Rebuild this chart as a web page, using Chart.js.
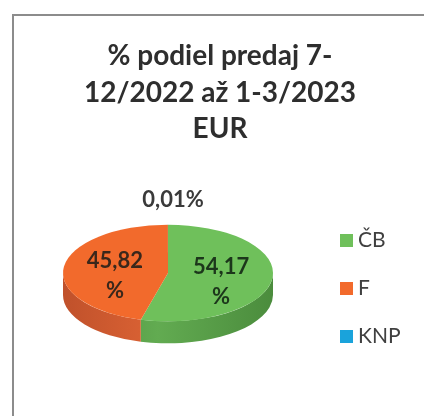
<!DOCTYPE html>
<html>
<head>
<meta charset="utf-8">
<script src="https://cdn.jsdelivr.net/npm/chart.js@4.4.1/dist/chart.umd.min.js"></script>
<style>
  html, body { margin: 0; padding: 0; background: #fff; }
  #wrap { width: 424px; height: 416px; }
</style>
</head>
<body>
<div id="wrap"><canvas id="pieChart" width="424" height="416"></canvas></div>
<script>
const titleLines = ['% podiel predaj 7-', '12/2022 až 1-3/2023', 'EUR'];
const categories = ['ČB', 'F', 'KNP'];
const shares = [54.17, 45.82, 0.01];

const topColors = ['#6fc05b', '#f26a2c', '#1aa3db'];
const sideColors = [['#4b8c3d', '#62ab51'], ['#c0512b', '#dc6334'], ['#12769f', '#1a93c4']];
const labelColors = ['#1c361b', '#3a271b', '#3a3a3a'];

const tilt = 0.46;   // vertical squash of the pie
const depth = 22;    // thickness of the pie in px

function fmt(v) {
    return v.toFixed(2).replace('.', ',');
}

// draws frame, title and legend around the pie
const decorPlugin = {
    id: 'decor',
    beforeDraw(chart) {
        const ctx = chart.ctx;
        ctx.save();
        ctx.fillStyle = '#fff';
        ctx.fillRect(0, 0, chart.width, chart.height);
        ctx.strokeStyle = '#8c8c8c';
        ctx.lineWidth = 2;
        ctx.beginPath();
        ctx.moveTo(13, chart.height + 2);
        ctx.lineTo(13, 15);
        ctx.lineTo(chart.width + 2, 15);
        ctx.stroke();

        ctx.fillStyle = '#2e2e2e';
        ctx.font = 'bold 28px Lato';
        ctx.textAlign = 'center';
        ctx.textBaseline = 'alphabetic';
        titleLines.forEach((line, i) => ctx.fillText(line, 220, 65 + i * 36.5));

        ctx.font = '21px Lato';
        ctx.textAlign = 'left';
        categories.forEach((c, i) => {
            const base = 247 + i * 48;
            ctx.fillStyle = topColors[i];
            ctx.fillRect(340, base - 13, 13, 13);
            ctx.fillStyle = '#404040';
            ctx.fillText(c, 358, base);
        });
        ctx.restore();
    }
};

// squashes the pie and adds the visible side wall
const pie3dPlugin = {
    id: 'pie3d',
    beforeDatasetsDraw(chart) {
        const ctx = chart.ctx;
        const arcs = chart.getDatasetMeta(0).data;
        const cx = arcs[0].x, cy = arcs[0].y, R = arcs[0].outerRadius;
        const ry = R * tilt;

        arcs.forEach((arc, i) => {
            // front half of the ellipse is 0..PI (and 2PI..3PI)
            [[0, Math.PI], [2 * Math.PI, 3 * Math.PI]].forEach(([lo, hi]) => {
                const a1 = Math.max(arc.startAngle, lo);
                const a2 = Math.min(arc.endAngle, hi);
                if (a2 <= a1) return;
                const g = ctx.createLinearGradient(cx - R, 0, cx + R, 0);
                g.addColorStop(0, sideColors[i][0]);
                g.addColorStop(0.45, sideColors[i][1]);
                g.addColorStop(1, sideColors[i][0]);
                ctx.beginPath();
                ctx.ellipse(cx, cy, R, ry, 0, a1, a2, false);
                ctx.ellipse(cx, cy + depth, R, ry, 0, a2, a1, true);
                ctx.closePath();
                ctx.fillStyle = g;
                ctx.fill();
            });
        });

        ctx.save();
        ctx.translate(cx, cy);
        ctx.scale(1, tilt);
        ctx.translate(-cx, -cy);
    },
    afterDatasetsDraw(chart) {
        const ctx = chart.ctx;
        ctx.restore();

        const arcs = chart.getDatasetMeta(0).data;
        ctx.save();
        ctx.font = 'bold 22px Lato';
        ctx.textAlign = 'center';
        ctx.textBaseline = 'middle';
        arcs.forEach((arc, i) => {
            const mid = (arc.startAngle + arc.endAngle) / 2;
            const R = arc.outerRadius;
            const text = fmt(shares[i]);
            ctx.fillStyle = labelColors[i];
            if (shares[i] < 1) {
                const px = arc.x + Math.cos(mid) * R + 5;
                const py = arc.y + Math.sin(mid) * R * tilt - 25;
                ctx.fillText(text + '%', px, py);
            } else {
                const px = arc.x + Math.cos(mid) * R * 0.51;
                const py = arc.y + Math.sin(mid) * R * 0.51 * tilt + 6;
                ctx.fillText(text, px, py - 15);
                ctx.fillText('%', px, py + 15);
            }
        });
        ctx.restore();
    }
};

const ctx = document.getElementById('pieChart').getContext('2d');
const chartInstance = new Chart(ctx, {
    type: 'pie',
    data: {
        labels: categories,
        datasets: [{
            data: shares,
            backgroundColor: topColors,
            borderWidth: 0
        }]
    },
    options: {
        responsive: false,
        animation: false,
        layout: { padding: { left: 63, right: 151, top: 168, bottom: 38 } },
        plugins: {
            legend: { display: false },
            title: { display: false },
            tooltip: { enabled: false }
        }
    },
    plugins: [decorPlugin, pie3dPlugin]
});
</script>
</body>
</html>
